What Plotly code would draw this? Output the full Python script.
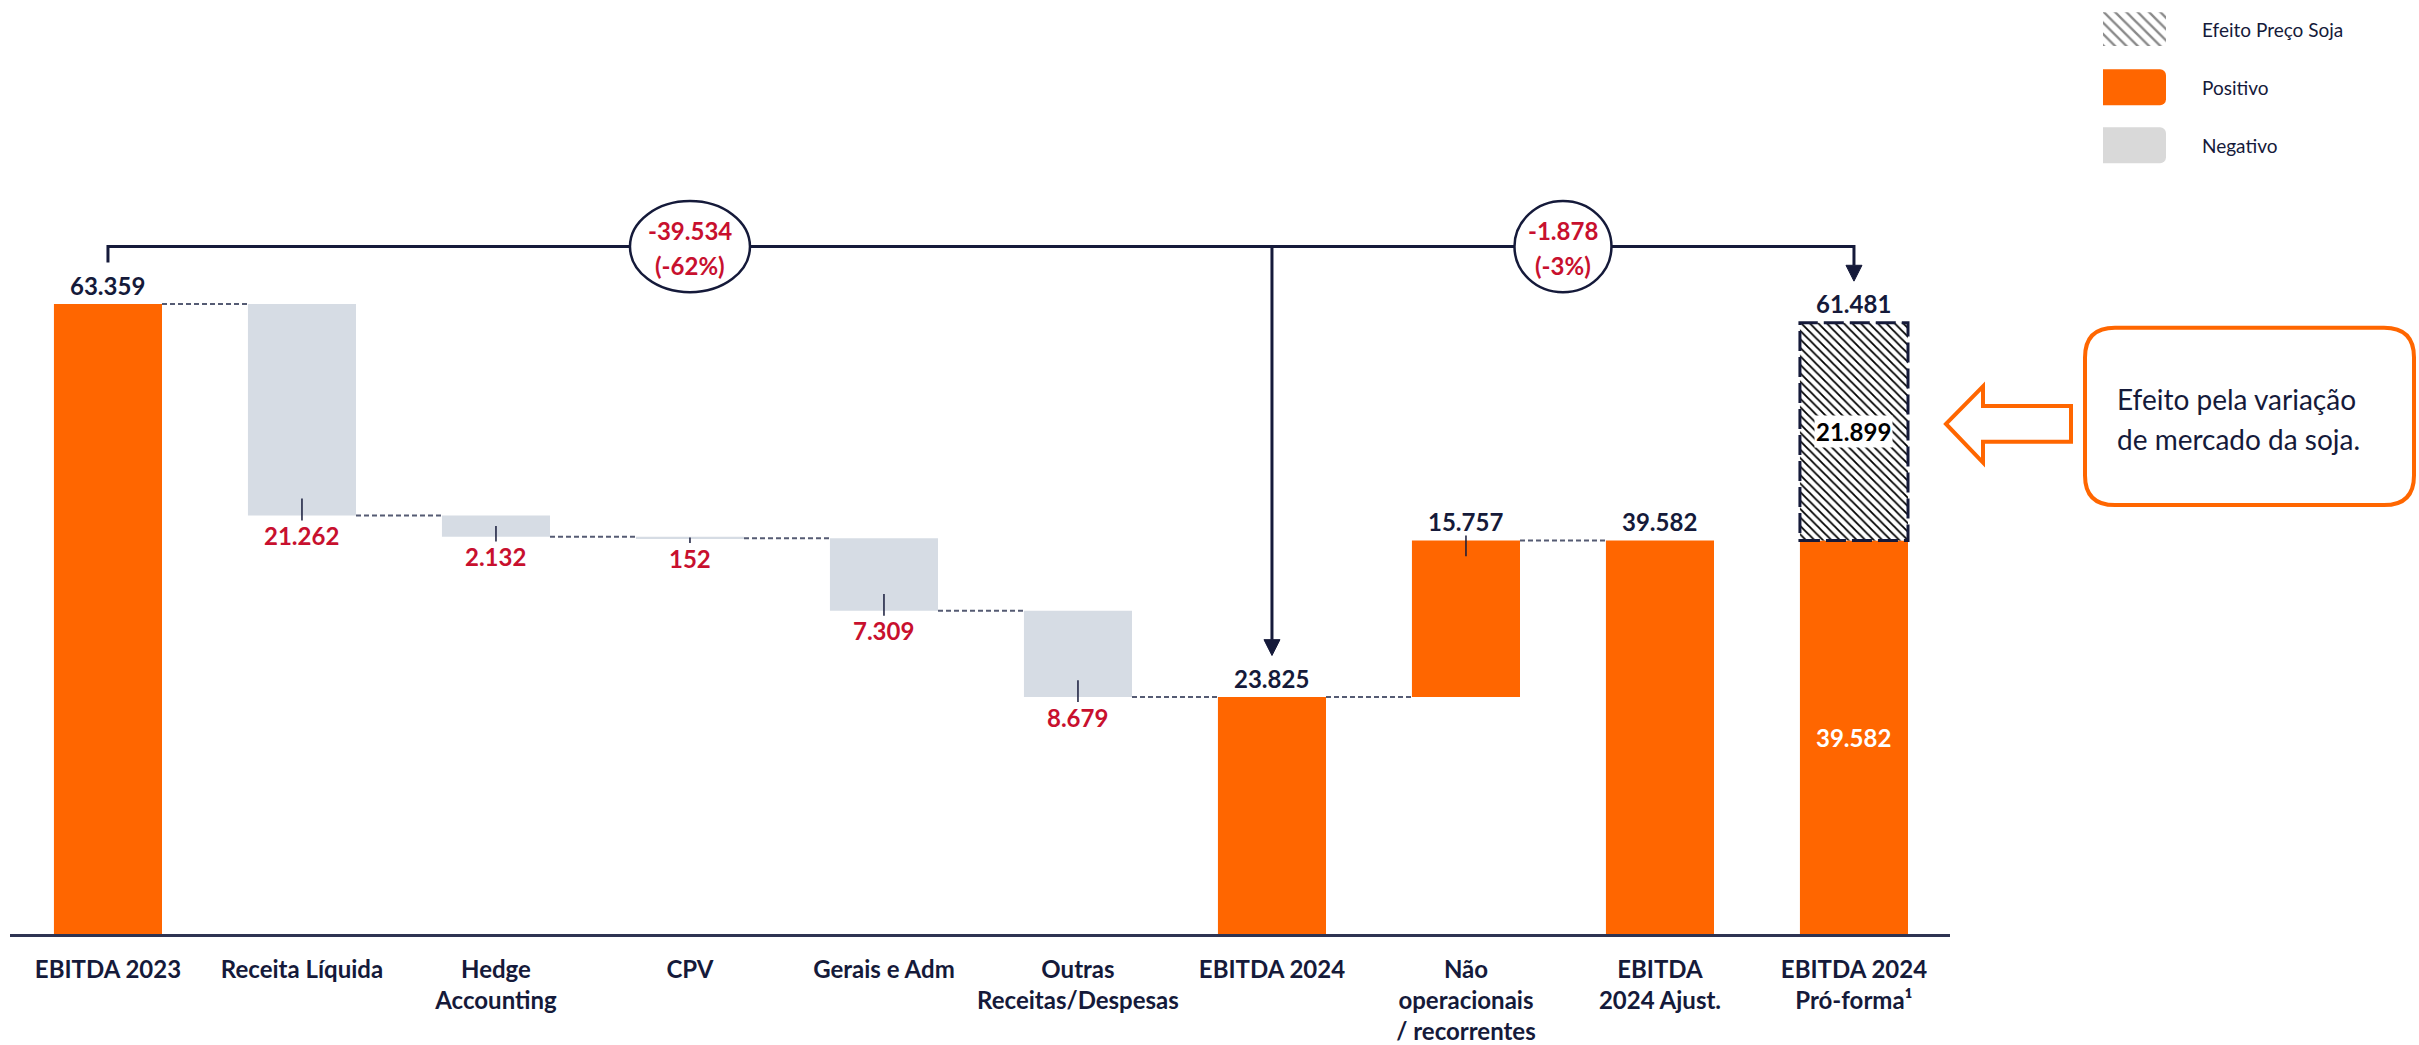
import plotly.graph_objects as go

# ---------------- data ----------------
categories = ["EBITDA 2023", "Receita Líquida", "Hedge<br>Accounting", "CPV", "Gerais e Adm",
              "Outras<br>Receitas/Despesas", "EBITDA 2024", "Não<br>operacionais<br>/ recorrentes",
              "EBITDA<br>2024 Ajust.", "EBITDA 2024<br>Pró-forma¹"]
kinds = ["total", "neg", "neg", "neg", "neg", "neg", "total", "pos", "total", "total"]
values = [63359, 21262, 2132, 152, 7309, 8679, 23825, 15757, 39582, 39582]
soy_effect = 21899
legend_labels = ["Efeito Preço Soja", "Positivo", "Negativo"]
callout_lines = ["Efeito pela variação", "de mercado da soja."]

# ---------------- style ----------------
W, H = 2419, 1045
ORANGE = "#FF6600"
GRAYBAR = "#D6DCE4"
GRAYLEG = "#D9D9D9"
NAVY = "#151A3A"
RED = "#C8102E"
FONT = "Lato, 'Open Sans', sans-serif"
PX_PER_UNIT = 0.010038      # vertical pixels per value unit
PX_PER_CAT = 194.0          # horizontal pixels per category
AXIS_PY = 943               # pixel row of the baseline
BAR_W = 0.557
HB = BAR_W / 2


def fmt(v):
    return f"{v:,}".replace(",", ".")


def hv(px):   # pixel length -> value length
    return px / PX_PER_UNIT


def hx(px):   # pixel length -> category units
    return px / PX_PER_CAT


def fx(px):
    return px / W


def fy(py):
    return 1 - py / H


# ---------------- waterfall geometry from data ----------------
bases, heights, colors, ends = [], [], [], []
level = 0
for k, v in zip(kinds, values):
    if k == "total":
        base = 0
        level = v
    elif k == "neg":
        base = level - v
        level -= v
    else:
        base = level
        level += v
    bases.append(base)
    heights.append(v)
    ends.append(level)
    colors.append(GRAYBAR if k == "neg" else ORANGE)

n = len(categories)
xs = list(range(n))
proforma_total = values[-1] + soy_effect

fig = go.Figure()
fig.add_trace(go.Bar(x=xs, y=heights, base=bases, width=BAR_W,
                     marker=dict(color=colors, line=dict(width=0)),
                     hoverinfo="skip"))
fig.add_trace(go.Bar(x=[n - 1], y=[soy_effect], base=[values[-1]], width=BAR_W,
                     marker=dict(color="white", line=dict(width=0),
                                 pattern=dict(shape="\\", fgcolor="#000000", bgcolor="white",
                                              size=6, solidity=0.3, fillmode="replace")),
                     hoverinfo="skip"))

# legend swatches on their own little axes
fig.add_trace(go.Bar(y=[0], x=[1], orientation="h", width=0.58,
                     xaxis="x2", yaxis="y2",
                     marker=dict(color="white", line=dict(width=0),
                                 pattern=dict(shape="\\", fgcolor="#8a8a8a", bgcolor="white",
                                              size=8, solidity=0.3, fillmode="replace")),
                     hoverinfo="skip"))
fig.add_trace(go.Bar(y=[1, 2], x=[1, 1], orientation="h", width=0.62,
                     xaxis="x2", yaxis="y2",
                     marker=dict(color=[ORANGE, GRAYLEG], cornerradius=6, line=dict(width=0)),
                     hoverinfo="skip"))

shapes = []
annotations = []
lbl_font = dict(family=FONT, size=24, color=NAVY, weight="bold")
red_font = dict(family=FONT, size=24, color=RED, weight="bold")

# connectors (dashed) between consecutive bars, except into the pro-forma bar
for i in range(n - 2):
    shapes.append(dict(type="line", xref="x", yref="y", x0=i + HB, x1=i + 1 - HB,
                       y0=ends[i], y1=ends[i], line=dict(color="#555B73", width=2, dash="5px,3px")))

# value labels + small ticks
for i, k in enumerate(kinds):
    top = bases[i] + heights[i]
    bot = bases[i]
    h = heights[i]
    if k == "neg":
        shapes.append(dict(type="line", xref="x", yref="y", x0=i, x1=i,
                           y0=bot + min(hv(17), h / 2), y1=bot - hv(5),
                           line=dict(color=NAVY, width=1.5)))
        annotations.append(dict(x=i, y=bot, yshift=-20, text=fmt(values[i]), showarrow=False,
                                xref="x", yref="y", yanchor="middle", font=red_font))
    elif k == "pos":
        shapes.append(dict(type="line", xref="x", yref="y", x0=i, x1=i,
                           y0=top + hv(5), y1=top - min(hv(16), h / 2),
                           line=dict(color=NAVY, width=1.5)))
        annotations.append(dict(x=i, y=top, yshift=19, text=fmt(values[i]), showarrow=False,
                                xref="x", yref="y", yanchor="middle", font=lbl_font))
    else:
        if i == n - 1:
            annotations.append(dict(x=i, y=proforma_total, yshift=19, text=fmt(proforma_total),
                                    showarrow=False, xref="x", yref="y", yanchor="middle",
                                    font=lbl_font))
            annotations.append(dict(x=i, y=top / 2, text=fmt(values[i]), showarrow=False,
                                    xref="x", yref="y", yanchor="middle",
                                    font=dict(family=FONT, size=24, color="white", weight="bold")))
        else:
            annotations.append(dict(x=i, y=top, yshift=19, text=fmt(values[i]), showarrow=False,
                                    xref="x", yref="y", yanchor="middle", font=lbl_font))

# soy effect segment: dashed border + label
shapes.append(dict(type="rect", xref="x", yref="y", x0=n - 1 - HB, x1=n - 1 + HB,
                   y0=values[-1], y1=proforma_total,
                   line=dict(color=NAVY, width=3, dash="20px,6px")))
annotations.append(dict(x=n - 1, y=values[-1] + soy_effect / 2, text=fmt(soy_effect),
                        showarrow=False, xref="x", yref="y", yanchor="middle",
                        bgcolor="white", borderpad=1,
                        font=dict(family=FONT, size=24, color="black", weight="bold")))

# ---------------- bracket with arrows ----------------
i0, i1, i2 = 0, 6, n - 1
yb = (AXIS_PY - 249) / PX_PER_UNIT
tip1 = values[i1] + hv(42)
tip2 = proforma_total + hv(42)
ah_w, ah_h = hx(8), hv(16)
path = (f"M {i0},{yb - hv(16)} L {i0},{yb} L {i2},{yb} L {i2},{tip2 + ah_h} "
        f"M {i1},{yb} L {i1},{tip1 + ah_h}")
shapes.append(dict(type="path", xref="x", yref="y", path=path,
                   line=dict(color=NAVY, width=3)))
for xi, tp in [(i1, tip1), (i2, tip2)]:
    shapes.append(dict(type="path", xref="x", yref="y",
                       path=f"M {xi - ah_w},{tp + ah_h} L {xi + ah_w},{tp + ah_h} L {xi},{tp} Z",
                       fillcolor=NAVY, line=dict(color=NAVY, width=1)))

# ellipses with change labels
diff1 = values[i1] - values[i0]
diff2 = proforma_total - values[i0]
for (cx, wpx, d) in [((i0 + i1) / 2, 120, diff1), ((i1 + i2) / 2, 97, diff2)]:
    shapes.append(dict(type="circle", xref="x", yref="y",
                       x0=cx - hx(wpx / 2), x1=cx + hx(wpx / 2),
                       y0=yb - hv(46), y1=yb + hv(46),
                       fillcolor="white", line=dict(color=NAVY, width=2.5)))
    pct = round(d / values[i0] * 100)
    annotations.append(dict(x=cx, y=yb, yshift=16, text="-" + fmt(abs(d)), showarrow=False,
                            xref="x", yref="y", yanchor="middle", font=red_font))
    annotations.append(dict(x=cx, y=yb, yshift=-19, text=f"({pct}%)", showarrow=False,
                            xref="x", yref="y", yanchor="middle", font=red_font))

# ---------------- callout (paper coordinates) ----------------
bx0, bx1, by0, by1, r = 2085, 2414, 331, 510, 30
rx, ry = r / W, r / H
X0, X1, YT, YB = fx(bx0), fx(bx1), fy(by0), fy(by1)
box = (f"M {X0 + rx},{YT} L {X1 - rx},{YT} Q {X1},{YT} {X1},{YT - ry} "
       f"L {X1},{YB + ry} Q {X1},{YB} {X1 - rx},{YB} L {X0 + rx},{YB} "
       f"Q {X0},{YB} {X0},{YB + ry} L {X0},{YT - ry} Q {X0},{YT} {X0 + rx},{YT} Z")
shapes.append(dict(type="path", xref="paper", yref="paper", path=box,
                   fillcolor="white", line=dict(color=ORANGE, width=4)))
pts = [(1946, 428), (1983, 390), (1983, 410), (2071, 410), (2071, 446), (1983, 446), (1983, 467)]
arrow = "M " + " L ".join(f"{fx(a)},{fy(b)}" for a, b in pts) + " Z"
shapes.append(dict(type="path", xref="paper", yref="paper", path=arrow,
                   fillcolor="white", line=dict(color=ORANGE, width=4)))
for j, line in enumerate(callout_lines):
    annotations.append(dict(x=fx(2115), y=fy(403 + 40 * j), xref="paper", yref="paper",
                            xanchor="left", yanchor="middle", showarrow=False, text=line,
                            font=dict(family=FONT, size=28, color=NAVY)))

# legend texts
for j, t in enumerate(legend_labels):
    annotations.append(dict(x=fx(2200), y=j, xref="paper", yref="y2", xanchor="left",
                            yanchor="middle", showarrow=False, text=t,
                            font=dict(family=FONT, size=19, color=NAVY)))

fig.update_layout(
    width=W, height=H, margin=dict(l=0, r=0, t=0, b=0),
    paper_bgcolor="white", plot_bgcolor="white",
    barmode="overlay", showlegend=False,
    shapes=shapes, annotations=annotations,
    xaxis=dict(domain=[fx(10), fx(1950)], range=[-0.505, 9.495], tickvals=xs,
               ticktext=categories, tickfont=lbl_font, showline=True, linecolor="#2E3452",
               linewidth=3, ticks="", showgrid=False, zeroline=False, ticklabelstandoff=12,
               fixedrange=True),
    yaxis=dict(domain=[1 - AXIS_PY / H, 1], range=[0, AXIS_PY / PX_PER_UNIT], visible=False,
               fixedrange=True),
    xaxis2=dict(domain=[fx(2103), fx(2166)], range=[0, 1], visible=False, anchor="y2",
                fixedrange=True),
    yaxis2=dict(domain=[fy(176), 1], range=[2.5, -0.5], visible=False, anchor="x2",
                fixedrange=True),
)

fig.write_html("out.html", config={"displayModeBar": False},
               post_script="document.body.style.margin='0';")
